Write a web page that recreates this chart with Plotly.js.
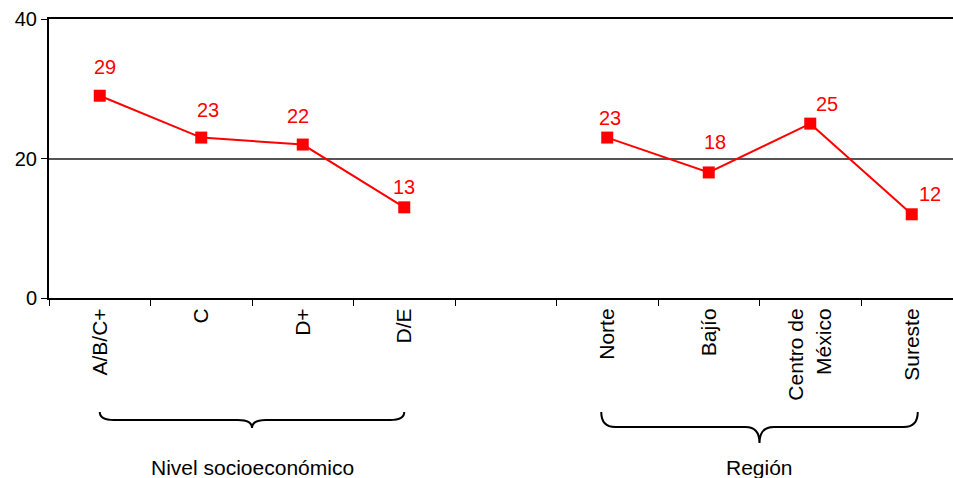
<!DOCTYPE html>
<html>
<head>
<meta charset="utf-8">
<script src="https://cdn.plot.ly/plotly-3.0.1.min.js"></script>
<style>html,body{margin:0;padding:0;background:#fff;}#chart{width:953px;height:478px;}</style>
</head>
<body>
<div id="chart"></div>
<script>
// ---- data ----
const nseCats = ['A/B/C+', 'C', 'D+', 'D/E'];
const nseVals = [29, 23, 22, 13];
const regionCats = ['Norte', 'Bajío', 'Centro de<br>México', 'Sureste'];
const regionVals = [23, 18, 25, 12];
const groupLabels = ['Nivel socioeconómico', 'Región'];
const spacer = ' ';
const yTicks = [0, 20, 40];

// ---- label placement (style, in pixels) ----
const nseLabelShift = [[5, 29], [7, 28], [-5, 29], [0, 20]];
const regionLabelShift = [[3, 20], [6, 30], [17, 20], [18, 20]];

const allCats = nseCats.concat([spacer], regionCats);
const W = 953, H = 478, mL = 49, mR = 0, mT = 19, mB = 180;
const plotW = W - mL - mR, plotH = H - mT - mB;
const slot = 101.5;
const r0 = -0.5, r1 = r0 + plotW / slot;

const RED = '#FF0000';
const FONT = 'Liberation Sans, Arial, sans-serif';

function trace(cats, vals) {
  return {
    x: cats, y: vals, type: 'scatter', mode: 'lines+markers',
    line: {color: RED, width: 2},
    marker: {symbol: 'square', size: 12, color: RED},
    cliponaxis: false, hoverinfo: 'skip', showlegend: false
  };
}
const traces = [trace(nseCats, nseVals), trace(regionCats, regionVals)];

function valueLabels(cats, vals, shifts) {
  return cats.map((c, i) => ({
    x: c, y: vals[i], xref: 'x', yref: 'y', text: String(vals[i]), showarrow: false,
    xanchor: 'center', yanchor: 'middle', xshift: shifts[i][0], yshift: shifts[i][1],
    font: {family: FONT, size: 20, color: RED}
  }));
}

// decorations (braces) in paper coordinates derived from category indices
const xp = i => (i - r0) / (r1 - r0);
const yp = py => (H - mB - py) / plotH;
function brace(i0, i1, ext, yTop, yLine, yTip) {
  const e = ext / plotW;
  const x0 = xp(i0) - e, x1 = xp(i1) + e, xm = (x0 + x1) / 2;
  const d = 14 / plotW;
  const a = yp(yTop), b = yp(yLine), c = yp(yTip);
  return `M ${x0},${a} Q ${x0},${b} ${x0 + d},${b} L ${xm - d},${b} Q ${xm},${b} ${xm},${c} ` +
         `Q ${xm},${b} ${xm + d},${b} L ${x1 - d},${b} Q ${x1},${b} ${x1},${a}`;
}
const shapes = [
  {type: 'path', xref: 'paper', yref: 'paper', path: brace(0, nseCats.length - 1, 0, 412, 420, 428), line: {color: '#000', width: 2}},
  {type: 'path', xref: 'paper', yref: 'paper',
   path: brace(nseCats.length + 1, allCats.length - 1, 6, 412, 427, 443), line: {color: '#000', width: 2}}
];
const annotations = [
  {xref: 'paper', yref: 'paper', x: xp((nseCats.length - 1) / 2), y: yp(467), text: groupLabels[0], showarrow: false,
   xanchor: 'center', yanchor: 'middle', font: {family: FONT, size: 21, color: '#000'}},
  {xref: 'paper', yref: 'paper', x: xp((nseCats.length + 1 + allCats.length - 1) / 2), y: yp(467), text: groupLabels[1], showarrow: false,
   xanchor: 'center', yanchor: 'middle', font: {family: FONT, size: 21, color: '#000'}}
].concat(valueLabels(nseCats, nseVals, nseLabelShift), valueLabels(regionCats, regionVals, regionLabelShift));

const layout = {
  width: W, height: H,
  margin: {l: mL, r: mR, t: mT, b: mB, pad: 0},
  paper_bgcolor: '#fff', plot_bgcolor: '#fff',
  font: {family: FONT, size: 19, color: '#000'},
  xaxis: {
    type: 'category', categoryorder: 'array', categoryarray: allCats,
    range: [r0, r1], tickson: 'boundaries', ticks: 'outside', ticklen: 6, tickwidth: 1, tickcolor: '#000',
    tickangle: -90, showline: true, linecolor: '#000', linewidth: 2, mirror: true,
    showgrid: false, zeroline: false, fixedrange: true,
    tickfont: {family: FONT, size: 21, color: '#000'}
  },
  yaxis: {
    range: [0, 40], tickvals: yTicks, ticks: 'outside', ticklen: 6, tickwidth: 1, tickcolor: '#000',
    showline: true, linecolor: '#000', linewidth: 2, showgrid: true, gridcolor: '#555', gridwidth: 2,
    zeroline: false, fixedrange: true, tickfont: {family: FONT, size: 20, color: '#000'}
  },
  shapes: shapes,
  annotations: annotations
};

Plotly.newPlot('chart', traces, layout, {displayModeBar: false, staticPlot: true});
</script>
</body>
</html>
